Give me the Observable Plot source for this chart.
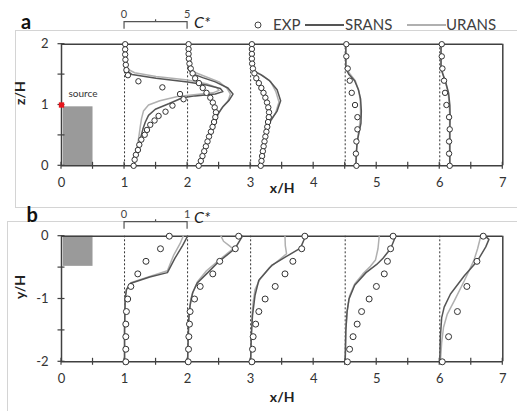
<!DOCTYPE html>
<html><head><meta charset="utf-8">
<script src="https://cdn.jsdelivr.net/npm/d3@7"></script>
<script src="https://cdn.jsdelivr.net/npm/@observablehq/plot@0.6"></script>
<style>
html,body{margin:0;padding:0;background:#fff;}
#wrap{position:relative;width:517px;height:411px;overflow:hidden;font-family:Lato,"Liberation Sans",sans-serif;}
.box{position:absolute;border:1px solid #d4d4d4;box-sizing:border-box;}
.panel{position:absolute;left:0;}
#over{position:absolute;left:0;top:0;pointer-events:none;}
</style></head><body>
<div id="wrap">
 <div class="box" style="left:15px;top:30px;width:520px;height:178px"></div>
 <div class="box" style="left:7px;top:221px;width:530px;height:210px"></div>
 <div id="pa" class="panel" style="top:0"></div>
 <div id="pb" class="panel" style="top:207px"></div>
 <svg id="over" width="517" height="411"></svg>
</div>
<script>
// ---------- data ----------
const profileX = [1, 2, 3, 4.5, 6];      // x/H of the profile baselines
const scaleA = 5;                         // C* per unit x/H, panel a
const scaleB = 1;                         // C* per unit x/H, panel b
const scaleLabelsA = ["0", "5"];
const scaleLabelsB = ["0", "1"];

const xTicks = [0,0.5,1,1.5,2,2.5,3,3.5,4,4.5,5,5.5,6,6.5,7];
const xLabels = [0,1,2,3,4,5,6,7];
const zTicks = [0,0.5,1,1.5,2];
const zLabels = [0,1,2];
const yTicksB = [0,-0.5,-1,-1.5,-2];
const yLabelsB = [0,-1,-2];

const sourceA = [{x1: 0.03, x2: 0.5, y1: 0, y2: 0.97}];
const sourceB = [{x1: 0.03, x2: 0.5, y1: 0, y2: -0.48}];
const sourcePoint = [{x: 0, y: 1}];

// panel a measured (EXP): z/H and C*
const zA1 = [2,1.915,1.83,1.745,1.66,1.575,1.49,1.39,1.29,1.18,1.095,0.99,0.89,0.82,0.745,0.674,0.59,0.51,0.43,0.345,0.26,0.18,0.1,0];
const cA1 = [0.05,0.05,0.05,0.07,0.1,0.15,0.27,1.1,3.0,4.4,4.68,3.8,3.25,2.7,2.38,2.04,1.78,1.6,1.33,1.17,1.06,0.9,0.8,0.72];
const zDense = [2,1.92,1.84,1.76,1.68,1.6,1.52,1.44,1.36,1.28,1.2,1.12,1.04,0.96,0.88,0.8,0.72,0.64,0.56,0.48,0.4,0.32,0.24,0.16,0.08,0];
const cA2 = [0.08,0.08,0.08,0.1,0.15,0.25,0.4,0.6,0.9,1.2,1.5,1.8,2.0,2.15,2.25,2.2,2.1,1.98,1.85,1.7,1.58,1.45,1.32,1.18,1.05,0.88];
const cA3 = [0.1,0.1,0.1,0.1,0.12,0.18,0.3,0.45,0.65,0.85,1.02,1.17,1.3,1.4,1.46,1.44,1.38,1.32,1.25,1.17,1.1,1.03,0.97,0.91,0.86,0.8];
const zSparse = [2,1.8,1.6,1.4,1.2,1,0.8,0.6,0.4,0.2,0];
const cA4 = [0.09,0.09,0.2,0.36,0.52,0.78,0.97,0.97,0.89,0.85,0.89];
const cA5 = [0.16,0.16,0.21,0.34,0.42,0.53,0.74,0.79,0.74,0.74,0.79];

// panel a simulations: [C*, z/H]
const srA1 = [[0.02,2],[0.02,1.7],[0.1,1.58],[0.6,1.5],[2.5,1.44],[5,1.38],[6.5,1.33],[7.6,1.27],[7.8,1.22],[7.2,1.18],[5.6,1.15],[4.6,1.12],[3.5,1.02],[2.44,0.93],[1.9,0.83],[1.65,0.72],[1.45,0.6],[1.3,0.48],[1.15,0.36],[1.0,0.24],[0.85,0.12],[0.75,0]];
const urA1 = [[0.02,2],[0.02,1.72],[0.15,1.6],[0.8,1.53],[2.5,1.47],[5,1.41],[6.5,1.35],[7.3,1.29],[7.5,1.24],[7.0,1.2],[5.5,1.17],[4.2,1.14],[2.8,1.07],[1.9,1.0],[1.5,0.9],[1.35,0.78],[1.25,0.65],[1.15,0.5],[1.05,0.36],[0.95,0.22],[0.82,0.1],[0.75,0]];
const srA2 = [[0.05,2],[0.05,1.6],[0.3,1.52],[1.2,1.45],[2.2,1.38],[3.2,1.28],[3.6,1.18],[3.3,1.08],[2.8,0.97],[2.4,0.85],[2.2,0.7],[1.9,0.55],[1.6,0.4],[1.3,0.25],[1.05,0.1],[0.9,0]];
const urA2 = [[0.05,2],[0.05,1.65],[0.4,1.55],[1.5,1.46],[2.5,1.38],[3.1,1.28],[3.4,1.18],[3.2,1.06],[2.7,0.95],[2.35,0.82],[2.15,0.68],[1.9,0.55],[1.6,0.4],[1.3,0.25],[1.05,0.1],[0.9,0]];
const srA3 = [[0.1,2],[0.1,1.6],[0.3,1.55],[0.8,1.5],[1.5,1.4],[2.1,1.25],[2.38,1.07],[2.1,0.9],[1.6,0.75],[1.35,0.65],[1.2,0.5],[1.05,0.3],[0.9,0.1],[0.85,0]];
const urA3 = [[0.1,2],[0.1,1.62],[0.4,1.55],[1.0,1.48],[1.6,1.38],[2.0,1.22],[2.25,1.05],[2.0,0.88],[1.6,0.74],[1.35,0.64],[1.2,0.5],[1.05,0.3],[0.9,0.1],[0.85,0]];
const srA4 = [[0.05,2],[0.05,1.6],[0.3,1.5],[0.75,1.4],[1.05,1.25],[1.22,1.1],[1.28,0.9],[1.25,0.7],[1.1,0.55],[0.95,0.4],[0.88,0.2],[0.85,0]];
const urA4 = [[0.05,2],[0.05,1.62],[0.35,1.52],[0.8,1.4],[1.1,1.22],[1.2,1.05],[1.22,0.85],[1.15,0.68],[1.02,0.5],[0.92,0.3],[0.87,0.1],[0.85,0]];
const srA5 = [[0.1,2],[0.1,1.6],[0.25,1.5],[0.5,1.35],[0.7,1.2],[0.8,1.0],[0.82,0.8],[0.8,0.6],[0.8,0.3],[0.8,0]];
const urA5 = [[0.1,2],[0.1,1.62],[0.25,1.52],[0.48,1.36],[0.66,1.2],[0.76,1.0],[0.79,0.8],[0.78,0.6],[0.78,0.3],[0.79,0]];

// panel b measured (EXP): y/H and C*
const yB11 = [0,-0.2,-0.4,-0.6,-0.8,-1,-1.2,-1.4,-1.6,-1.8,-2];
const cB1 = [0.71,0.57,0.34,0.21,0.1,0.05,0.03,0.02,0.02,0.02,0.02];
const cB2 = [0.81,0.757,0.51,0.4,0.2,0.11,0.04,0.03,0.02,0.015,0.01];
const cB3 = [0.86,0.81,0.67,0.545,0.39,0.23,0.13,0.08,0.04,0.03,0.02];
const cB4 = [0.76,0.72,0.67,0.62,0.495,0.38,0.26,0.19,0.125,0.07,0.035];
const yB6 = [0,-0.4,-0.8,-1.2,-1.6,-2];
const cB5 = [0.69,0.59,0.43,0.28,0.14,0.04];

// panel b simulations: [C*, y/H]
const srB1 = [[1.0,0],[0.92,-0.15],[0.8,-0.35],[0.68,-0.58],[0.4,-0.65],[0.1,-0.75],[0.03,-0.85],[0.01,-1.0],[0,-1.5],[0,-2]];
const urB1 = [[0.93,0],[0.88,-0.12],[0.78,-0.3],[0.68,-0.55],[0.4,-0.64],[0.1,-0.74],[0.03,-0.85],[0.01,-1],[0,-1.5],[0,-2]];
const srB2 = [[0.87,0],[0.75,-0.2],[0.5,-0.4],[0.3,-0.6],[0.15,-0.75],[0.08,-0.9],[0.04,-1.1],[0.02,-1.3],[0.01,-1.6],[0,-2]];
const urB2 = [[0.53,0],[0.57,-0.08],[0.66,-0.15],[0.72,-0.2],[0.5,-0.38],[0.3,-0.55],[0.16,-0.72],[0.09,-0.88],[0.05,-1.0],[0.02,-1.3],[0,-2]];
const srB3 = [[0.87,0],[0.79,-0.19],[0.555,-0.33],[0.34,-0.46],[0.13,-0.7],[0.07,-0.94],[0.03,-1.26],[0.01,-1.6],[0,-2]];
const urB3 = [[0.545,0],[0.55,-0.15],[0.57,-0.28],[0.45,-0.38],[0.3,-0.5],[0.15,-0.68],[0.07,-0.85],[0.04,-1.05],[0.02,-1.3],[0,-2]];
const srB4 = [[0.8,0],[0.72,-0.2],[0.6,-0.35],[0.5,-0.45],[0.33,-0.58],[0.15,-0.78],[0.06,-1.0],[0.03,-1.2],[0.01,-1.5],[0,-2]];
const urB4 = [[0.54,0],[0.52,-0.2],[0.48,-0.38],[0.4,-0.48],[0.28,-0.6],[0.15,-0.76],[0.07,-0.95],[0.03,-1.2],[0.01,-1.5],[0,-2]];
const srB5 = [[0.72,0],[0.78,-0.05],[0.73,-0.17],[0.6,-0.39],[0.39,-0.63],[0.17,-0.92],[0.07,-1.13],[0.03,-1.3],[0.01,-1.6],[0,-2]];
const urB5 = [[0.65,0],[0.6,-0.2],[0.54,-0.39],[0.39,-0.71],[0.23,-1.03],[0.12,-1.24],[0.06,-1.45],[0.03,-1.7],[0.01,-2]];

// ---------- build rows ----------
const exp = (x0, s, ys, cs) => ys.map((y, i) => ({x: x0 + cs[i] / s, y}));
const lin = (x0, s, pts, k) => pts.map(([c, y]) => ({x: x0 + c / s, y, k}));

const expA = [
  ...exp(profileX[0], scaleA, zA1, cA1), ...exp(profileX[1], scaleA, zDense, cA2),
  ...exp(profileX[2], scaleA, zDense, cA3), ...exp(profileX[3], scaleA, zSparse, cA4),
  ...exp(profileX[4], scaleA, zSparse, cA5)];
const srA = [srA1, srA2, srA3, srA4, srA5].flatMap((p, i) => lin(profileX[i], scaleA, p, i));
const urA = [urA1, urA2, urA3, urA4, urA5].flatMap((p, i) => lin(profileX[i], scaleA, p, i));
const expB = [
  ...exp(profileX[0], scaleB, yB11, cB1), ...exp(profileX[1], scaleB, yB11, cB2),
  ...exp(profileX[2], scaleB, yB11, cB3), ...exp(profileX[3], scaleB, yB11, cB4),
  ...exp(profileX[4], scaleB, yB6, cB5)];
const srB = [srB1, srB2, srB3, srB4, srB5].flatMap((p, i) => lin(profileX[i], scaleB, p, i));
const urB = [urB1, urB2, urB3, urB4, urB5].flatMap((p, i) => lin(profileX[i], scaleB, p, i));

// ---------- helpers ----------
const AX = "#404040", TXT = "#333";
function crossTicks(xs, yAt, ys, xAt, len) {
  return (index, scales) => {
    const g = d3.create("svg:g").attr("stroke", AX).attr("stroke-width", 1.2);
    for (const v of xs) { const px = scales.x(v), py = scales.y(yAt);
      g.append("line").attr("x1", px).attr("x2", px).attr("y1", py - len).attr("y2", py + len); }
    for (const v of ys) { const py = scales.y(v), px = scales.x(xAt);
      g.append("line").attr("x1", px - len).attr("x2", px + len).attr("y1", py).attr("y2", py); }
    return g.node();
  };
}
function scaleBar(x0, labels, yPx, labelPx, cPx) {
  return (index, scales) => {
    const g = d3.create("svg:g");
    const a = scales.x(x0), b = scales.x(x0 + 1), m = (a + b) / 2;
    g.append("path").attr("fill", "none").attr("stroke", "#555").attr("stroke-width", 1.2)
      .attr("d", `M${a},${yPx + 7}V${yPx}H${b}V${yPx + 7}M${m},${yPx}V${yPx - 2.5}`);
    g.selectAll("text.s").data(labels).join("text").attr("x", (d, i) => i ? b : a).attr("y", labelPx)
      .attr("text-anchor", "middle").attr("font-size", 11).attr("fill", "#444").text(d => d);
    g.append("text").attr("x", b + 15).attr("y", cPx).attr("font-size", 16).attr("font-style", "italic")
      .attr("fill", "#222").text("C*");
    return g.node();
  };
}
function panel({height, mt, mb, ydom, src, expData, sr, ur, yTicks, yLabels, yAxisY, title, barY, barLabels, barLabelY, barCY, dotR, extra}) {
  return Plot.plot({
    width: 517, height, marginLeft: 61, marginRight: 14.7, marginTop: mt, marginBottom: mb,
    x: {domain: [0, 7], axis: null}, y: {domain: ydom, axis: null},
    style: {fontFamily: "Lato, 'Liberation Sans', sans-serif", background: "transparent", overflow: "visible"},
    marks: [
      Plot.rect(src, {x1: "x1", x2: "x2", y1: "y1", y2: "y2", fill: "#9a9a9a"}),
      Plot.ruleX(profileX, {y1: ydom[0], y2: ydom[1], stroke: "#333", strokeWidth: 1, strokeDasharray: "2,2"}),
      Plot.ruleY(ydom, {x1: 0, x2: 7, stroke: AX, strokeWidth: 1.5}),
      Plot.ruleX([0, 7], {y1: ydom[0], y2: ydom[1], stroke: AX, strokeWidth: 1.5}),
      crossTicks(xTicks, yAxisY, yTicks, 0, 3.5),
      Plot.axisX({ticks: xLabels, tickSize: 0, tickPadding: 12, fontSize: 13, fill: TXT, label: null, tickFormat: d => String(d)}),
      Plot.axisY({ticks: yLabels, tickSize: 0, tickPadding: 13, fontSize: 13, fill: TXT, label: null, tickFormat: d => String(d)}),
      Plot.line(ur, {x: "x", y: "y", z: "k", stroke: "#b0b0b0", strokeWidth: 1.5}),
      Plot.line(sr, {x: "x", y: "y", z: "k", stroke: "#555", strokeWidth: 1.5}),
      Plot.dot(expData, {x: "x", y: "y", r: dotR, fill: "white", stroke: "#333", strokeWidth: 1}),
      ...(extra || []),
      Plot.text([title[0]], {frameAnchor: "left", dx: -41, rotate: -90, fontSize: 14, fontWeight: "bold", fill: "#222", text: d => d}),
      Plot.text([title[1]], {frameAnchor: "bottom", dy: title[2], fontSize: 14, fontWeight: "bold", fill: "#222", text: d => d}),
      scaleBar(profileX[0], barLabels, barY, barLabelY, barCY)
    ]
  });
}

document.getElementById("pa").append(panel({
  height: 207, mt: 43.7, mb: 41.7, ydom: [0, 2], src: sourceA, expData: expA, sr: srA, ur: urA,
  yTicks: zTicks, yLabels: zLabels, yAxisY: 0, title: ["z/H", "x/H", 27], dotR: 2.7,
  barY: 21.7, barLabels: scaleLabelsA, barLabelY: 17.5, barCY: 28,
  extra: [
    Plot.dot(sourcePoint, {x: "x", y: "y", symbol: "square", r: 3, fill: "#e8141b"}),
    Plot.text(sourcePoint, {x: "x", y: "y", text: () => "source", dx: 7, dy: -11, textAnchor: "start", fontSize: 10, fill: "#333"})
  ]
}));
document.getElementById("pb").append(panel({
  height: 204, mt: 28.7, mb: 49.7, ydom: [-2, 0], src: sourceB, expData: expB, sr: srB, ur: urB,
  yTicks: yTicksB, yLabels: yLabelsB, yAxisY: -2, title: ["y/H", "x/H", 40], dotR: 3,
  barY: 14.7, barLabels: scaleLabelsB, barLabelY: 10.5, barCY: 16
}));

// ---------- overlay: panel letters and legend ----------
const over = d3.select("#over").attr("font-family", "Lato, 'Liberation Sans', sans-serif");
over.append("text").attr("x", 21).attr("y", 28.5).attr("font-size", 20).attr("font-weight", "bold").attr("fill", "#111").text("a");
over.append("text").attr("x", 26.5).attr("y", 221.5).attr("font-size", 20).attr("font-weight", "bold").attr("fill", "#111").text("b");
const lg = over.append("g").attr("font-size", 15).attr("fill", "#404040");
lg.append("circle").attr("cx", 258).attr("cy", 25).attr("r", 3).attr("fill", "white").attr("stroke", "#444");
lg.append("text").attr("x", 273).attr("y", 30).text("EXP");
lg.append("line").attr("x1", 305).attr("x2", 344).attr("y1", 25).attr("y2", 25).attr("stroke", "#555").attr("stroke-width", 2);
lg.append("text").attr("x", 345).attr("y", 30).text("SRANS");
lg.append("line").attr("x1", 407).attr("x2", 446).attr("y1", 25).attr("y2", 25).attr("stroke", "#b0b0b0").attr("stroke-width", 2);
lg.append("text").attr("x", 446).attr("y", 30).text("URANS");
</script>
</body></html>
